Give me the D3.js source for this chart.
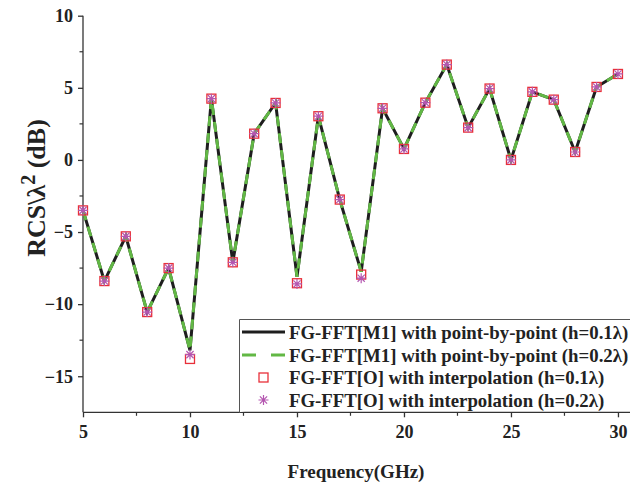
<!DOCTYPE html>
<html>
<head>
<meta charset="utf-8">
<script src="https://cdn.jsdelivr.net/npm/d3@7"></script>
<style>
  body { margin: 0; background: #fff; }
  svg text { font-family: "Liberation Serif", "Times New Roman", serif; font-weight: bold; fill: #222; }
</style>
</head>
<body>
<div id="chart"></div>
<script>
// data
var freq = [5,6,7,8,9,10,11,12,13,14,15,16,17,18,19,20,21,22,23,24,25,26,27,28,29,30];
var m1h01 = [-3.5,-8.4,-5.3,-10.55,-7.5,-13.2,4.25,-7.1,1.82,3.95,-8.1,3.03,-2.75,-7.75,3.58,0.76,3.97,6.61,2.24,4.95,0.0,4.72,4.18,0.55,5.06,5.96];
var m1h02 = [-3.5,-8.4,-5.3,-10.55,-7.5,-13.2,4.25,-7.1,1.82,3.95,-8.1,3.03,-2.75,-7.75,3.58,0.76,3.97,6.61,2.24,4.95,0.0,4.72,4.18,0.55,5.06,5.96];
var oh01 = [-3.5,-8.4,-5.3,-10.55,-7.5,-13.8,4.25,-7.1,1.82,3.95,-8.55,3.03,-2.75,-7.95,3.58,0.76,3.97,6.61,2.24,4.95,0.0,4.72,4.18,0.55,5.06,5.96];
var oh02 = [-3.5,-8.4,-5.3,-10.55,-7.5,-13.5,4.25,-7.1,1.82,3.95,-8.6,3.03,-2.75,-8.2,3.58,0.76,3.97,6.61,2.24,4.95,0.0,4.72,4.18,0.55,5.06,5.96];
var xTicks = [5,10,15,20,25,30];
var yTicks = [-15,-10,-5,0,5,10];
var legendLabels = [
  "FG-FFT[M1] with point-by-point (h=0.1\u03bb)",
  "FG-FFT[M1] with point-by-point (h=0.2\u03bb)",
  "FG-FFT[O] with interpolation (h=0.1\u03bb)",
  "FG-FFT[O] with interpolation (h=0.2\u03bb)"
];

var svgWidth = 630, svgHeight = 488;
var svg = d3.select("#chart").append("svg")
  .attr("width", svgWidth)
  .attr("height", svgHeight);

var x = d3.scaleLinear().domain([5, 30.6]).range([83, 630.8]);
var y = d3.scaleLinear().domain([-17.5, 10]).range([412.3, 15.7]);

var black = "#1e1e1e", green = "#62b845", red = "#e8303a", purple = "#b456b0";

// axes
var bottomAxis = d3.axisBottom(x).tickValues(xTicks).tickSize(5).tickPadding(8).tickFormat(d3.format("d"));
var leftAxis = d3.axisLeft(y).tickValues(yTicks).tickSize(5).tickPadding(5).tickFormat(d3.format("d"));

var gx = svg.append("g").attr("transform", "translate(0," + y(-17.5) + ")").call(bottomAxis);
var gy = svg.append("g").attr("transform", "translate(" + x(5) + ",0)").call(leftAxis);

[gx, gy].forEach(function(g) {
  g.select(".domain").attr("stroke", "#333").attr("stroke-width", 1.3);
  g.selectAll(".tick line").attr("stroke", "#333").attr("stroke-width", 1.3);
  g.selectAll(".tick text").attr("font-size", "18px").attr("fill", "#222")
    .attr("font-family", "Liberation Serif").attr("font-weight", "bold");
});
gx.select(".domain").attr("d", "M" + x(5) + ",0H" + x(30.6));
gy.select(".domain").attr("d", "M0," + y(-17.5) + "V" + y(10));

// minor ticks
var minorX = [7.5,12.5,17.5,22.5,27.5];
var minorY = [-12.5,-7.5,-2.5,2.5,7.5];
svg.selectAll(".mx").data(minorX).enter().append("line")
  .attr("x1", d => x(d)).attr("x2", d => x(d))
  .attr("y1", y(-17.5)).attr("y2", y(-17.5) + 3.5)
  .attr("stroke", "#333").attr("stroke-width", 1.2);
svg.selectAll(".my").data(minorY).enter().append("line")
  .attr("y1", d => y(d)).attr("y2", d => y(d))
  .attr("x1", x(5)).attr("x2", x(5) - 3.5)
  .attr("stroke", "#333").attr("stroke-width", 1.2);

// lines
var line = d3.line().x((d, i) => x(freq[i])).y(d => y(d));
svg.append("path").datum(m1h01).attr("d", line)
  .attr("fill", "none").attr("stroke", black).attr("stroke-width", 3);
svg.append("path").datum(m1h02).attr("d", line)
  .attr("fill", "none").attr("stroke", green).attr("stroke-width", 3)
  .attr("stroke-dasharray", "10,7");

// markers
function square(g, cx, cy) {
  g.append("rect").attr("x", cx - 4.5).attr("y", cy - 4.5).attr("width", 9).attr("height", 9)
    .attr("fill", "none").attr("stroke", red).attr("stroke-width", 1.3);
}
function star(g, cx, cy) {
  var r = 5;
  var p = "M" + (cx - r) + "," + cy + "H" + (cx + r) +
    "M" + cx + "," + (cy - r) + "V" + (cy + r) +
    "M" + (cx - r * 0.72) + "," + (cy - r * 0.72) + "L" + (cx + r * 0.72) + "," + (cy + r * 0.72) +
    "M" + (cx - r * 0.72) + "," + (cy + r * 0.72) + "L" + (cx + r * 0.72) + "," + (cy - r * 0.72);
  g.append("path").attr("d", p).attr("stroke", purple).attr("stroke-width", 1.2).attr("fill", "none");
}
var mk = svg.append("g");
oh01.forEach(function(v, i) { square(mk, x(freq[i]), y(v)); });
oh02.forEach(function(v, i) { star(mk, x(freq[i]), y(v)); });

// legend
var lg = svg.append("g");
lg.append("path").attr("d", "M630," + 319.5 + "H239.5V" + y(-17.5))
  .attr("fill", "#fff").attr("stroke", "#555").attr("stroke-width", 1);
var rowY = [332, 355, 377.5, 400];
lg.append("line").attr("x1", 242).attr("x2", 285).attr("y1", rowY[0]).attr("y2", rowY[0])
  .attr("stroke", black).attr("stroke-width", 3);
lg.append("line").attr("x1", 242).attr("x2", 285).attr("y1", rowY[1]).attr("y2", rowY[1])
  .attr("stroke", green).attr("stroke-width", 3).attr("stroke-dasharray", "14,15");
square(lg, 263.5, rowY[2]);
star(lg, 263.5, rowY[3]);
lg.selectAll("text.lt").data(legendLabels).enter().append("text")
  .attr("x", 289).attr("y", (d, i) => rowY[i] + 6.5)
  .attr("font-size", "18.8px").text(d => d);

// axis titles
svg.append("text")
  .attr("x", 356).attr("y", 478).attr("text-anchor", "middle")
  .attr("font-size", "19px").text("Frequency(GHz)");

var yl = svg.append("text")
  .attr("transform", "translate(45,188) rotate(-90)")
  .attr("text-anchor", "middle").attr("font-size", "26px");
yl.append("tspan").text("RCS\\\u03bb");
yl.append("tspan").attr("dy", -10).attr("font-size", "20px").text("2");
yl.append("tspan").attr("dy", 10).text(" (dB)");
</script>
</body>
</html>
